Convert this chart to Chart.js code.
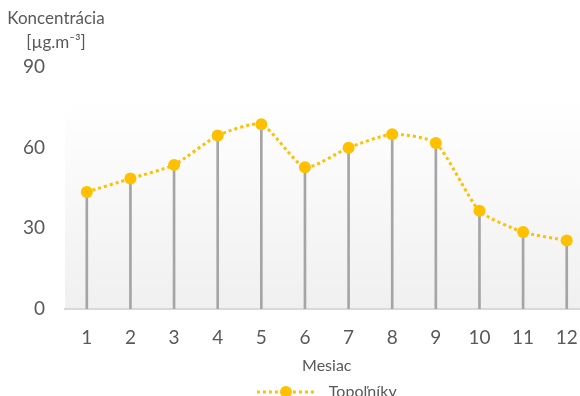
<!DOCTYPE html>
<html>
<head>
<meta charset="utf-8">
<script src="https://cdn.jsdelivr.net/npm/chart.js@4/dist/chart.umd.min.js"></script>
<style>
  html, body { margin: 0; padding: 0; overflow: hidden; background: #fff; width: 580px; height: 396px; }
  #wrap { position: absolute; left: 0; top: 0; }
</style>
</head>
<body>
<div id="wrap"><canvas id="myChart" width="595" height="410"></canvas></div>
<script>
const months = ['1', '2', '3', '4', '5', '6', '7', '8', '9', '10', '11', '12'];
const topolniky = [43.5, 48.5, 53.6, 64.5, 68.7, 52.7, 60, 65, 61.7, 36.5, 28.6, 25.5];
const yTicks = [0, 30, 60, 90];

const fontFamily = 'Lato, "Open Sans", sans-serif';
const textColor = '#595959';
const yellow = '#FFC000';

// legend symbol: dotted line with a dot in the middle
const legendIcon = document.createElement('canvas');
legendIcon.width = 64;
legendIcon.height = 14;
(function () {
    const c = legendIcon.getContext('2d');
    c.strokeStyle = yellow;
    c.lineWidth = 3;
    c.setLineDash([3, 3]);
    c.beginPath();
    c.moveTo(0, 7);
    c.lineTo(58, 7);
    c.stroke();
    c.fillStyle = yellow;
    c.beginPath();
    c.arc(29, 7, 6, 0, Math.PI * 2);
    c.fill();
})();

const plotBackground = {
    id: 'plotBackground',
    beforeDraw(chart) {
        const { ctx, chartArea, scales } = chart;
        const top = scales.y.getPixelForValue(78.5);
        const g = ctx.createLinearGradient(0, top, 0, chartArea.bottom);
        g.addColorStop(0, '#ffffff');
        g.addColorStop(1, '#f0f0f0');
        ctx.save();
        ctx.fillStyle = g;
        ctx.fillRect(chartArea.left, top, chartArea.right - chartArea.left, chartArea.bottom - top);
        ctx.restore();
    }
};

const yTitle = {
    id: 'yTitle',
    afterDraw(chart) {
        const { ctx, chartArea } = chart;
        const x = chartArea.left - 9;
        ctx.save();
        ctx.fillStyle = textColor;
        ctx.font = '17px ' + fontFamily;
        ctx.textAlign = 'center';
        ctx.textBaseline = 'middle';
        ctx.fillText('Koncentrácia', x, 19);
        ctx.fillText('[µg.m⁻³]', x, 43);
        ctx.restore();
    }
};

const ctx = document.getElementById('myChart');
const myChart = new Chart(ctx, {
    data: {
        labels: months,
        datasets: [{
            type: 'line',
            label: 'Topoľníky',
            data: topolniky,
            borderColor: yellow,
            backgroundColor: yellow,
            borderWidth: 3,
            borderDash: [3, 3],
            tension: 0.2,
            pointRadius: 6,
            pointHoverRadius: 6,
            pointBorderWidth: 0,
            pointBackgroundColor: yellow,
            order: 0
        },
        {
            type: 'bar',
            label: 'drop',
            data: topolniky,
            backgroundColor: '#A5A5A5',
            barThickness: 2,
            order: 1
        }]
    },
    options: {
        responsive: false,
        animation: false,
        layout: {
            padding: { top: 67, left: 0, right: 0, bottom: 0 }
        },
        scales: {
            x: {
                grid: { display: false, drawTicks: false },
                border: { display: true, color: '#D9D9D9', width: 2 },
                ticks: {
                    color: textColor,
                    padding: 17,
                    font: { family: fontFamily, size: 19 }
                },
                title: {
                    display: true,
                    text: 'Mesiac',
                    color: textColor,
                    padding: { top: -10, bottom: 3 },
                    font: { family: fontFamily, size: 16 }
                }
            },
            y: {
                min: 0,
                max: 90,
                afterBuildTicks(scale) {
                    scale.ticks = yTicks.map(v => ({ value: v }));
                },
                afterFit(scale) {
                    scale.width = 65;
                },
                grid: { display: false, drawTicks: false },
                border: { display: false },
                ticks: {
                    color: textColor,
                    padding: 20,
                    font: { family: fontFamily, size: 19 }
                }
            }
        },
        plugins: {
            tooltip: { enabled: false },
            legend: {
                position: 'bottom',
                fullSize: false,
                labels: {
                    color: textColor,
                    padding: 6,
                    usePointStyle: true,
                    pointStyleWidth: 64,
                    font: { family: fontFamily, size: 16 },
                    generateLabels() {
                        return [{
                            text: 'Topoľníky',
                            pointStyle: legendIcon,
                            fillStyle: yellow,
                            strokeStyle: yellow,
                            lineWidth: 0,
                            fontColor: textColor,
                            datasetIndex: 0
                        }];
                    }
                }
            }
        }
    },
    plugins: [plotBackground, yTitle]
});
</script>
</body>
</html>
